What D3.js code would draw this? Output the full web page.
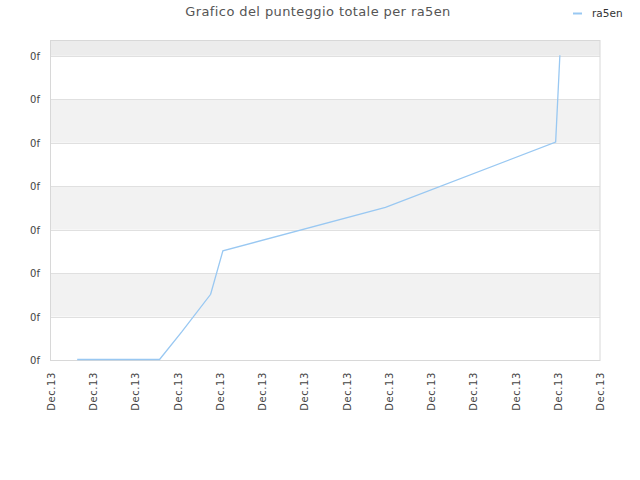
<!DOCTYPE html>
<html>
<head>
  <meta charset="utf-8">
  <script src="https://cdnjs.cloudflare.com/ajax/libs/d3/7.8.5/d3.min.js"></script>
  <title>ra5en</title>
  <style>
    body { margin: 0; background: #fff; }
    text { font-family: "DejaVu Sans", sans-serif; }
  </style>
</head>
<body>
<script>
// data (x in tick steps, y in grid steps)
var xVals = [0.62, 2.57, 3.1, 3.78, 4.07, 7.92, 11.95, 12.05];
var yVals = [0, 0, 0.64, 1.5, 2.5, 3.5, 5, 7];
var xTicks = d3.range(0, 14);
var xLabels = xTicks.map(function() { return "Dec.13"; });
var yTicks = d3.range(0, 8);
var yLabels = yTicks.map(function() { return "0f"; });

var W = 640, H = 480;
var pLeft = 51, pRight = 600, pTop = 40.5, pBottom = 360;

var x = d3.scaleLinear().domain([0, 13]).range([pLeft, pRight]);
var y = d3.scaleLinear().domain([0, 7.35]).range([pBottom, pTop]);

var svg = d3.select("body").append("svg")
  .attr("width", W).attr("height", H);

// title + legend
svg.append("text")
  .attr("x", 318).attr("y", 16)
  .attr("text-anchor", "middle")
  .attr("font-size", 13)
  .attr("letter-spacing", 0.4)
  .attr("fill", "#555")
  .text("Grafico del punteggio totale per ra5en");

svg.append("line")
  .attr("x1", 573).attr("x2", 582).attr("y1", 13.5).attr("y2", 13.5)
  .attr("stroke", "#99c8f2").attr("stroke-width", 2);
svg.append("text")
  .attr("x", 592).attr("y", 17)
  .attr("font-size", 10.5)
  .attr("fill", "#333")
  .text("ra5en");

// bands
svg.append("rect")
  .attr("x", x(0)).attr("width", x(13) - x(0))
  .attr("y", y(7.35)).attr("height", y(7) - y(7.35))
  .attr("fill", "#ececec");
svg.selectAll("rect.band").data([1, 3, 5]).enter().append("rect")
  .attr("class", "band")
  .attr("x", x(0)).attr("width", x(13) - x(0))
  .attr("y", function(d) { return y(d + 1); })
  .attr("height", function(d) { return y(d) - y(d + 1); })
  .attr("fill", "#f2f2f2");

// gridlines
svg.selectAll("line.grid").data(yTicks).enter().append("line")
  .attr("class", "grid")
  .attr("x1", x(0)).attr("x2", x(13))
  .attr("y1", function(d) { return Math.round(y(d)) + 0.5; })
  .attr("y2", function(d) { return Math.round(y(d)) + 0.5; })
  .attr("stroke", "#e0e0e0");

// frame
svg.append("rect")
  .attr("x", x(0) - 0.5).attr("y", y(7.35))
  .attr("width", x(13) - x(0) + 0.5).attr("height", y(0) - y(7.35) + 0.5)
  .attr("fill", "none").attr("stroke", "#d8d8d8");

// y labels
svg.selectAll("text.ylab").data(yTicks).enter().append("text")
  .attr("class", "ylab")
  .attr("x", 40).attr("y", function(d) { return y(d) + 4; })
  .attr("text-anchor", "end")
  .attr("font-size", 10)
  .attr("fill", "#444")
  .text(function(d, i) { return yLabels[i]; });

// x labels
svg.selectAll("text.xlab").data(xTicks).enter().append("text")
  .attr("class", "xlab")
  .attr("transform", function(d) { return "translate(" + (x(d) + 4) + ",372) rotate(-90)"; })
  .attr("text-anchor", "end")
  .attr("font-size", 10)
  .attr("letter-spacing", 0.6)
  .attr("fill", "#444")
  .text(function(d, i) { return xLabels[i]; });

// line
var pts = xVals.map(function(v, i) { return [v, yVals[i]]; });
var line = d3.line()
  .x(function(d) { return x(d[0]); })
  .y(function(d) { return y(d[1]) - 0.5; });
svg.append("path")
  .datum(pts)
  .attr("d", line)
  .attr("fill", "none")
  .attr("stroke", "#99c8f2")
  .attr("stroke-width", 1.3);
</script>
</body>
</html>
